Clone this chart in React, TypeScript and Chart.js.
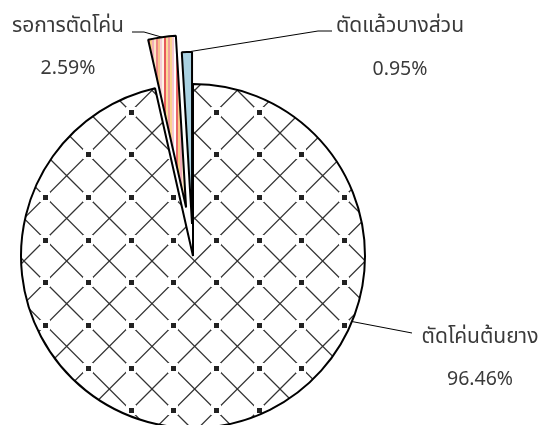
import React, { useEffect, useRef } from 'react';
import { Chart, registerables } from 'chart.js';

Chart.register(...registerables);

// ---- data ----
const categories: string[] = ['ตัดโค่นต้นยาง', 'รอการตัดโค่น', 'ตัดแล้วบางส่วน'];
const shares: number[] = [96.46, 2.59, 0.95];

// ---- style / layout (not data) ----
const W = 539;
const H = 425;
const RADIUS = 172;
const EXPLODE = [0, 49, 32];
const NAME_FONT = '21px "Noto Sans Thai", "Leelawadee UI", "Noto Sans", sans-serif';
const PCT_FONT = '19.5px "Noto Sans", "Leelawadee UI", sans-serif';
const TEXT_COLOR = '#3a3a3a';

type LabelLayout = {
  x: number;
  nameY: number;
  pctY: number;
  anchorDeg?: number; // canvas angle where leader starts (big slice)
  path: [number, number][];
};

const labelLayout: LabelLayout[] = [
  { x: 480, nameY: 343, pctY: 385, anchorDeg: 22.4, path: [[412, 333]] },
  { x: 68, nameY: 32, pctY: 74, path: [[144, 32], [132, 32]] },
  { x: 400, nameY: 32, pctY: 75, path: [[318, 31], [332, 31]] },
];

function makeGridPattern(ctx: CanvasRenderingContext2D): CanvasPattern | string {
  const S = 128;
  const p = S / 3;
  const c = document.createElement('canvas');
  c.width = S;
  c.height = S;
  const g = c.getContext('2d');
  if (!g) return '#fff';
  g.fillStyle = '#ffffff';
  g.fillRect(0, 0, S, S);
  g.strokeStyle = '#333333';
  g.lineWidth = 1.3;
  g.beginPath();
  for (let k = -4; k <= 4; k++) {
    g.moveTo(k * p - 10, -10);
    g.lineTo(k * p + S + 10, S + 10);
  }
  for (let k = -1; k <= 7; k++) {
    g.moveTo(k * p + 10, -10);
    g.lineTo(k * p - S - 10, S + 10);
  }
  g.stroke();
  for (let i = 0; i < 3; i++) {
    for (let j = 0; j < 3; j++) {
      const cx = Math.round((i + 0.5) * p);
      const cy = Math.round((j + 0.5) * p);
      g.fillStyle = '#ffffff';
      g.fillRect(cx - 5, cy - 5, 10, 10);
      g.fillStyle = '#222222';
      g.fillRect(cx - 2, cy - 2, 5, 5);
    }
  }
  const pat = ctx.createPattern(c, 'repeat');
  if (!pat) return '#fff';
  pat.setTransform(new DOMMatrix([1, 0, 0, 1, 24, 5]));
  return pat;
}

function makeStripePattern(ctx: CanvasRenderingContext2D): CanvasPattern | string {
  const cols = [
    '#f29b9b', '#fad38e', '#f7c6cf', '#ffffff', '#e86666', '#f9cd86',
    '#f2adb9', '#fde5c2', '#ec8585', '#f8c48a', '#f5cfd8', '#fff4e6',
    '#e65a5a', '#fadb9a',
  ];
  const sw = 2;
  const c = document.createElement('canvas');
  c.width = cols.length * sw;
  c.height = 4;
  const g = c.getContext('2d');
  if (!g) return '#f4b183';
  cols.forEach((col, i) => {
    g.fillStyle = col;
    g.fillRect(i * sw, 0, sw, 4);
  });
  const pat = ctx.createPattern(c, 'repeat');
  return pat || '#f4b183';
}

const explodePlugin = {
  id: 'explodeSlices',
  afterDatasetsUpdate(chart: any) {
    const meta = chart.getDatasetMeta(0);
    meta.data.forEach((arc: any, i: number) => {
      const d = EXPLODE[i] || 0;
      if (!d) return;
      const mid = (arc.startAngle + arc.endAngle) / 2;
      arc.x += Math.cos(mid) * d;
      arc.y += Math.sin(mid) * d;
    });
  },
};

const labelPlugin = {
  id: 'sliceLabels',
  afterDatasetsDraw(chart: any) {
    const ctx: CanvasRenderingContext2D = chart.ctx;
    const meta = chart.getDatasetMeta(0);
    ctx.save();
    meta.data.forEach((arc: any, i: number) => {
      const L = labelLayout[i];
      const ang =
        L.anchorDeg !== undefined
          ? (L.anchorDeg * Math.PI) / 180
          : (arc.startAngle + arc.endAngle) / 2;
      const sx = arc.x + Math.cos(ang) * arc.outerRadius;
      const sy = arc.y + Math.sin(ang) * arc.outerRadius;
      ctx.strokeStyle = '#000000';
      ctx.lineWidth = 1;
      ctx.beginPath();
      ctx.moveTo(sx, sy);
      L.path.forEach(([px, py]) => ctx.lineTo(px, py));
      ctx.stroke();

      ctx.fillStyle = TEXT_COLOR;
      ctx.textAlign = 'center';
      ctx.textBaseline = 'alphabetic';
      ctx.font = NAME_FONT;
      ctx.fillText(categories[i], L.x, L.nameY);
      ctx.font = PCT_FONT;
      ctx.fillText(shares[i].toFixed(2) + '%', L.x, L.pctY);
    });
    ctx.restore();
  },
};

export default function App() {
  const ref = useRef<HTMLCanvasElement | null>(null);

  useEffect(() => {
    const canvas = ref.current;
    if (!canvas) return;
    const ctx = canvas.getContext('2d');
    if (!ctx) return;
    const grid = makeGridPattern(ctx);
    const stripes = makeStripePattern(ctx);
    const chart = new Chart(canvas, {
      type: 'pie',
      data: {
        labels: categories,
        datasets: [
          {
            data: shares,
            backgroundColor: [grid, stripes, '#a9d1e1'] as any,
            borderColor: '#000000',
            borderWidth: 2,
            radius: RADIUS,
            clip: false,
          } as any,
        ],
      },
      options: {
        responsive: false,
        animation: false,
        events: [],
        layout: { padding: { left: 0, right: 153, top: 87, bottom: 0 } },
        plugins: {
          legend: { display: false },
          tooltip: { enabled: false },
        },
      } as any,
      plugins: [explodePlugin, labelPlugin],
    });
    return () => chart.destroy();
  }, []);

  return (
    <div
      style={{
        position: 'absolute',
        left: 0,
        top: 0,
        width: W,
        height: H,
        background: '#ffffff',
        overflow: 'hidden',
      }}
    >
      <canvas ref={ref} width={W} height={H} style={{ display: 'block' }} />
    </div>
  );
}
